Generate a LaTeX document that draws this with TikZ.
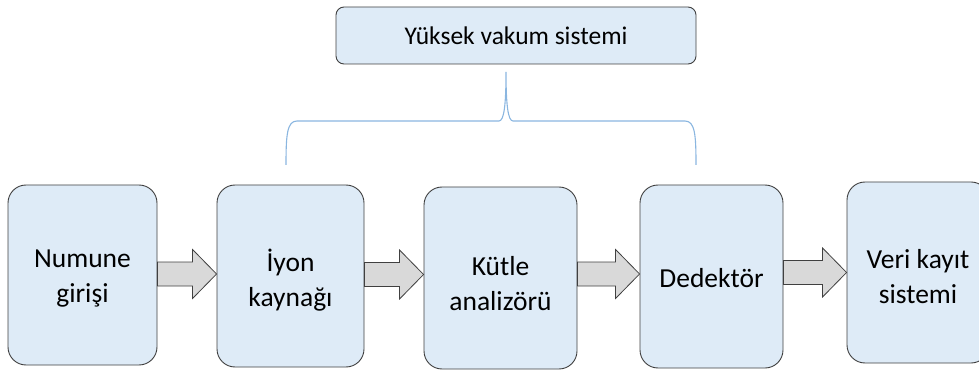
\documentclass[tikz,border=0pt]{standalone}
\usepackage{fontspec}
\setmainfont{Carlito}
\usetikzlibrary{calc}
\definecolor{boxfill}{HTML}{DEEBF7}
\definecolor{boxline}{HTML}{404040}
\definecolor{arrfill}{HTML}{D9D9D9}
\definecolor{bracecol}{HTML}{8AB6E0}
\newcommand\blockarrow[2]{%
  \draw[arrowsty] (#1) -- ($(#1)+(0,-12)$) -- ($(#2)+(-24,-12)$) -- ($(#2)+(-24,-24.5)$) -- (#2)
    -- ($(#2)+(-24,24.5)$) -- ($(#2)+(-24,12)$) -- ($(#1)+(0,12)$) -- cycle;}
\begin{document}
\begin{tikzpicture}[x=1pt,y=-1pt,
  stagebox/.style={draw=boxline, line width=0.9pt, fill=boxfill, rounded corners=18pt,
    align=center, inner sep=0pt, font=\fontsize{27.5}{35}\selectfont},
  topbox/.style={draw=boxline, line width=0.9pt, fill=boxfill, rounded corners=8pt,
    inner sep=0pt, font=\fontsize{25.5}{30}\selectfont},
  arrowsty/.style={draw=boxline, line width=0.8pt, fill=arrfill},
  bracesty/.style={draw=bracecol, line width=1.1pt}]
\useasboundingbox (0,0) rectangle (979,371);
\node[topbox, minimum width=360pt, minimum height=57pt] (vac) at (516,35.5) {Yüksek vakum sistemi};
\node[stagebox, minimum width=149pt, minimum height=180pt] (b1) at (82.5,275) {};
\node[stagebox, minimum width=147pt, minimum height=182pt] (b2) at (290.5,276) {};
\node[stagebox, minimum width=153pt, minimum height=182pt] (b3) at (500.5,278) {};
\node[stagebox, minimum width=143pt, minimum height=183pt] (b4) at (711.5,276.5) {};
\node[stagebox, minimum width=142pt, minimum height=181pt] (b5) at (918,272.5) {};
\node[stagebox, draw=none, fill=none] (t1) at (82.5,279) {Numune\\girişi};
\node[stagebox, draw=none, fill=none] (t2) at (290.5,280) {İyon\\kaynağı};
\node[stagebox, draw=none, fill=none] (t3) at (500.5,284) {Kütle\\analizörü};
\node[stagebox, draw=none, fill=none] (t4) at (711.5,278) {Dedektör};
\node[stagebox, draw=none, fill=none] (t5) at (918,277) {Veri kayıt\\sistemi};
\coordinate (a1s) at (b1.east |- 0,274);
\coordinate (a1e) at (b2.west |- 0,274);
\coordinate (a2s) at (b2.east |- 0,274.5);
\coordinate (a2e) at (b3.west |- 0,274.5);
\coordinate (a3s) at (b3.east |- 0,274);
\coordinate (a3e) at (b4.west |- 0,274);
\coordinate (a4s) at (b4.east |- 0,272.5);
\coordinate (a4e) at (b5.west |- 0,272.5);
\blockarrow{a1s}{a1e}
\blockarrow{a2s}{a2e}
\blockarrow{a3s}{a3e}
\blockarrow{a4s}{a4e}
\coordinate (tip) at (506,72);
\coordinate (bl) at (286,165);
\coordinate (br) at (696,165);
\draw[bracesty] (bl) .. controls (286,135) and (287,121) .. (297,121) -- (499,121)
  .. controls (504,121) and (506,105) .. (tip)
  .. controls (506,105) and (508,121) .. (513,121) -- (685,121)
  .. controls (695,121) and (696,135) .. (br);
\end{tikzpicture}
\end{document}
